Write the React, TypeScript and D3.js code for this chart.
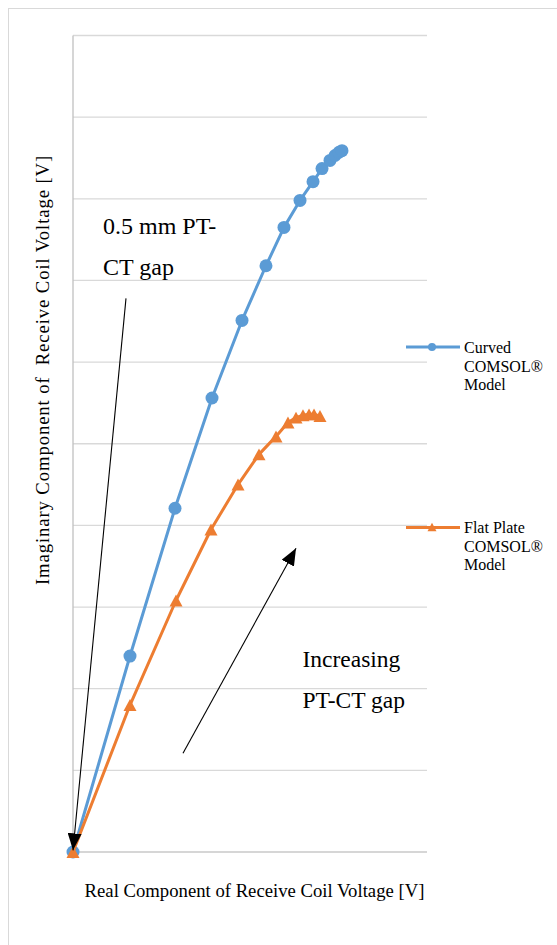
import React from 'react';
import * as d3 from 'd3';

// Curved COMSOL® model (blue circles)
const curvedX = [0, 1.127, 2.017, 2.749, 3.342, 3.816, 4.172, 4.489, 4.746, 4.924, 5.082, 5.181, 5.26, 5.319];
const curvedY = [0, 2.4, 4.21, 5.56, 6.51, 7.18, 7.65, 7.98, 8.21, 8.37, 8.47, 8.53, 8.57, 8.59];
// Flat plate COMSOL® model (orange triangles)
const flatX = [0, 1.127, 2.037, 2.729, 3.263, 3.678, 4.014, 4.251, 4.41, 4.548, 4.667, 4.766, 4.884];
const flatY = [0, 1.8, 3.08, 3.95, 4.5, 4.87, 5.09, 5.26, 5.32, 5.35, 5.36, 5.36, 5.34];

const seriesNames = [['Curved', 'COMSOL®', 'Model'], ['Flat Plate', 'COMSOL®', 'Model']];
const xTitle = 'Real Component of Receive Coil Voltage [V]';
const yTitle = 'Imaginary Component of  Receive Coil Voltage [V]';

// annotation arrows in data units: [x1, y1, x2(tip), y2(tip)]
const arrows = [
  [1.048, 6.78, 0.0, 0.02],
  [2.175, 1.21, 4.41, 3.72],
];

const BLUE = '#5B9BD5';
const ORANGE = '#ED7D31';
const FONT = '"Liberation Serif", "Times New Roman", serif';

export default function App() {
  const W = 557, H = 945;
  const x = d3.scaleLinear().domain([0, 7]).range([73, 427]);
  const y = d3.scaleLinear().domain([0, 10]).range([852, 35.5]);
  const grid = d3.range(0, 11);

  const curved = curvedX.map((v, i) => [v, curvedY[i]] as [number, number]);
  const flat = flatX.map((v, i) => [v, flatY[i]] as [number, number]);
  const line = d3.line<[number, number]>().x(d => x(d[0])).y(d => y(d[1]));

  const tri = (cx: number, cy: number, s: number) =>
    `M${cx},${cy - s * 0.92}L${cx + s},${cy + s * 0.92}L${cx - s},${cy + s * 0.92}Z`;

  return (
    <svg width={W} height={H} style={{ position: 'absolute', left: 0, top: 0, background: '#fff' }} fontFamily={FONT}>
      <defs>
        <marker id="ah" markerUnits="userSpaceOnUse" markerWidth={17} markerHeight={14} refX={17} refY={7} orient="auto">
          <path d="M0,0L17,7L0,14Z" fill="#000" />
        </marker>
      </defs>
      <rect x={0} y={0} width={W} height={H} fill="#fff" />
      {/* outer chart border */}
      <line x1={8} y1={8.5} x2={W} y2={8.5} stroke="#d9d9d9" strokeWidth={1} />
      <line x1={8.5} y1={8} x2={8.5} y2={H} stroke="#d9d9d9" strokeWidth={1} />
      {/* gridlines */}
      {grid.map(g => (
        <line key={g} x1={x(0)} x2={x(7)} y1={y(g)} y2={y(g)} stroke={g === 0 ? '#c8c8c8' : '#d9d9d9'} strokeWidth={1.3} />
      ))}
      <line x1={x(0)} x2={x(0)} y1={y(10)} y2={y(0)} stroke="#c0c0c0" strokeWidth={1.3} />

      {/* series */}
      <path d={line(curved) || ''} fill="none" stroke={BLUE} strokeWidth={3} strokeLinejoin="round" />
      {curved.map((d, i) => (
        <circle key={i} cx={x(d[0])} cy={y(d[1])} r={6.5} fill={BLUE} />
      ))}
      <path d={line(flat) || ''} fill="none" stroke={ORANGE} strokeWidth={3} strokeLinejoin="round" />
      {flat.map((d, i) => (
        <path key={i} d={tri(x(d[0]), y(d[1]), 6.5)} fill={ORANGE} />
      ))}

      {/* annotation arrows */}
      {arrows.map((a, i) => (
        <line key={i} x1={x(a[0])} y1={y(a[1])} x2={x(a[2])} y2={y(a[3])} stroke="#000" strokeWidth={1.1} markerEnd="url(#ah)" />
      ))}
      <text x={103} y={234} fontSize={24} fill="#000">0.5 mm PT-</text>
      <text x={103} y={275} fontSize={24} fill="#000">CT gap</text>
      <text x={302.5} y={667} fontSize={23.5} fill="#000">Increasing</text>
      <text x={302.5} y={708} fontSize={23.5} fill="#000">PT-CT gap</text>

      {/* axis titles */}
      <text x={254.5} y={897} fontSize={18.7} textAnchor="middle" fill="#000">{xTitle}</text>
      <text transform="translate(49,370) rotate(-90)" fontSize={18.7} letterSpacing={0.9} textAnchor="middle" fill="#000" style={{ whiteSpace: 'pre' }}>{yTitle}</text>

      {/* legend */}
      <line x1={406} x2={460} y1={347} y2={347} stroke={BLUE} strokeWidth={3} />
      <circle cx={432} cy={347} r={4} fill={BLUE} />
      {seriesNames[0].map((t, i) => (
        <text key={t} x={464} y={353 + i * 18.5} fontSize={16} fill="#000">{t}</text>
      ))}
      <line x1={406} x2={460} y1={527.5} y2={527.5} stroke={ORANGE} strokeWidth={3} />
      <path d={tri(432, 527, 4.5)} fill={ORANGE} />
      {seriesNames[1].map((t, i) => (
        <text key={t + i} x={464} y={533 + i * 18.5} fontSize={16} fill="#000">{t}</text>
      ))}
    </svg>
  );
}
